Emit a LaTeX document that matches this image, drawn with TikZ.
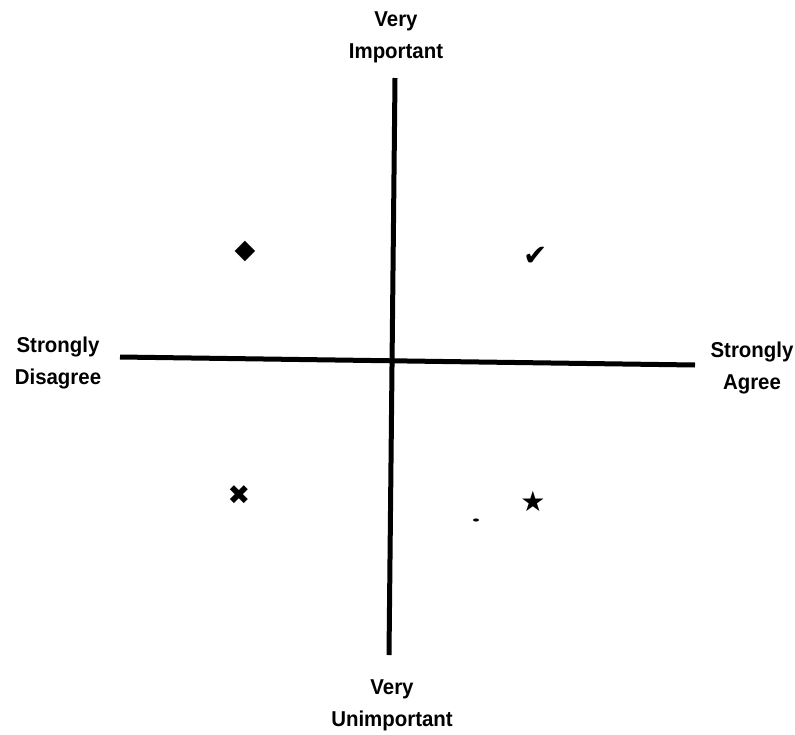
\documentclass[tikz,border=0pt]{standalone}
\usepackage{fontspec}
\setmainfont{Liberation Sans}[FakeStretch=0.95]
\newfontfamily\symfont{DejaVu Sans}
\begin{document}
\begin{tikzpicture}[x=1pt,y=-1pt,
  lbl/.style={font=\fontsize{21.5}{32}\selectfont\bfseries, align=center, inner sep=0pt},
  axis/.style={line width=5pt},
  sym/.style={inner sep=0pt}]
\useasboundingbox (0,0) rectangle (795,734);
\coordinate (top) at (395,78);
\coordinate (bot) at (389,655);
\coordinate (lft) at (120,357);
\coordinate (rgt) at (695,365);
\draw[axis] (top) -- (bot);
\draw[axis] (lft) -- (rgt);
\node[lbl] (vi) at (396,37) {Very\\Important};
\node[lbl] (vu) at (392,705) {Very\\Unimportant};
\node[lbl] (sd) at (58,363) {Strongly\\Disagree};
\node[lbl] (sa) at (752,368) {Strongly\\Agree};
\node[sym, font=\symfont\fontsize{27}{27}\selectfont] (dia) at (245,251) {◆};
\node[sym, font=\symfont\fontsize{29}{29}\selectfont] (chk) at (536,256) {✔};
\node[sym, font=\symfont\fontsize{27}{27}\selectfont] (crs) at (239,495) {✖};
\node[sym, font=\symfont\fontsize{28}{28}\selectfont] (star) at (533,501) {★};
\fill (476,520) ellipse (3 and 1.6);
\end{tikzpicture}
\end{document}
